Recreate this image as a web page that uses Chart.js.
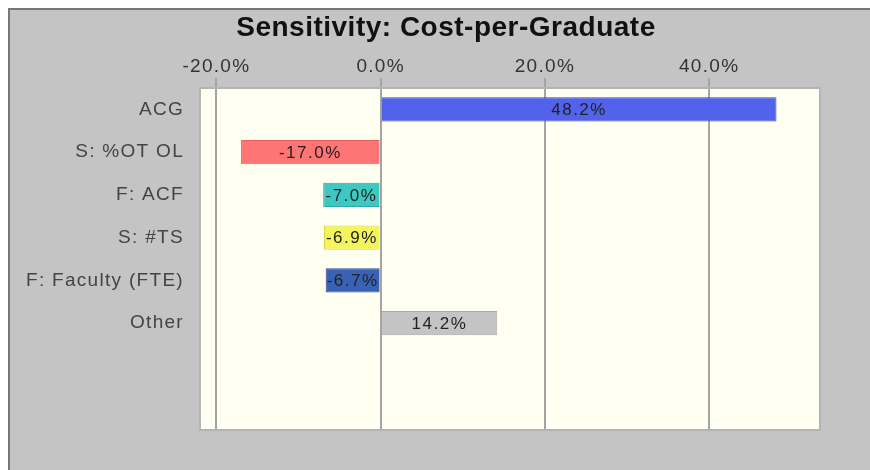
<!DOCTYPE html>
<html>
<head>
<meta charset="utf-8">
<script src="https://cdn.jsdelivr.net/npm/chart.js@4"></script>
<style>
  body { margin: 0; background: #fff; }
  #frame { position: absolute; left: 8px; top: 8px; width: 870px; height: 470px;
           background: #c4c4c4; border-left: 2px solid #777; border-top: 2px solid #777; }
  #wrap { position: absolute; left: 0; top: 0; width: 870px; height: 470px; }
</style>
</head>
<body>
<div id="frame"></div>
<div id="wrap"><canvas id="mygraph" width="870" height="470"></canvas></div>
<script>
// data
const title = "Sensitivity: Cost-per-Graduate";
const labels = ["ACG", "S: %OT OL", "F: ACF", "S: #TS", "F: Faculty (FTE)", "Other", "", ""];
const values = [48.2, -17.0, -7.0, -6.9, -6.7, 14.2, null, null];
const barColors = ["#5262ea", "#ff7474", "#3ec8c2", "#f4f45c", "#3a62b4", "#c4c4c4", "#fff", "#fff"];
const barEdges = ["#3a48c8", "#e86060", "#30a8a2", "#d8d840", "#2a4c94", "#a8a8a8", "#fff", "#fff"];
const xTicks = [-20, 0, 20, 40];

const FONT = "'Liberation Sans', Arial, sans-serif";

// cream plot area, title, border
const plotBox = {
  id: "plotBox",
  beforeDraw(chart) {
    const a = chart.chartArea, c = chart.ctx;
    c.save();
    c.fillStyle = "#fffff2";
    c.fillRect(a.left, a.top, a.right - a.left, a.bottom - a.top);
    c.fillStyle = "#111";
    c.font = "bold 28px " + FONT;
    c.letterSpacing = "0.5px";
    c.textAlign = "center";
    c.textBaseline = "alphabetic";
    c.fillText(title, 446, 36);
    c.restore();
    // slightly wider axis text, like the old GDI rendering
    c.letterSpacing = "1.3px";
  },
  afterDraw(chart) {
    const a = chart.chartArea, c = chart.ctx;
    c.save();
    c.strokeStyle = "#b4b4b4";
    c.lineWidth = 2;
    c.strokeRect(a.left, a.top, a.right - a.left, a.bottom - a.top);
    c.restore();
    c.letterSpacing = "0px";
  }
};

// value labels centred on the bars
const barText = {
  id: "barText",
  afterDatasetsDraw(chart) {
    const c = chart.ctx;
    const meta = chart.getDatasetMeta(0);
    c.save();
    c.font = "17px " + FONT;
    c.letterSpacing = "1.5px";
    c.fillStyle = "#222";
    c.textAlign = "center";
    c.textBaseline = "middle";
    meta.data.forEach((bar, i) => {
      if (values[i] == null) return;
      const p = bar.getProps(["x", "y", "base"], true);
      c.fillText(values[i].toFixed(1) + "%", (p.x + p.base) / 2, p.y + 1);
    });
    c.restore();
  }
};

var ctx = document.getElementById("mygraph");
var mygraph = new Chart(ctx, {
  type: "bar",
  data: {
    labels: labels,
    datasets: [{
      data: values,
      backgroundColor: barColors,
      borderColor: barEdges,
      borderWidth: 1,
      categoryPercentage: 1,
      barPercentage: 0.57
    }]
  },
  options: {
    indexAxis: "y",
    responsive: false,
    animation: false,
    layout: { padding: { left: 0, right: 50, top: 38, bottom: 40 } },
    plugins: {
      legend: { display: false },
      tooltip: { enabled: false },
      title: { display: false }
    },
    scales: {
      x: {
        position: "top",
        min: -22,
        max: 53.5,
        afterBuildTicks: s => { s.ticks = xTicks.map(v => ({ value: v })); },
        afterFit: s => { s.height = 50; },
        grid: { color: "#a4a4a4", lineWidth: 2, tickLength: 10 },
        border: { display: false },
        ticks: {
          color: "#333",
          padding: 0,
          maxRotation: 0,
          font: { family: FONT, size: 19 },
          callback: v => v.toFixed(1) + "%"
        }
      },
      y: {
        afterFit: s => { s.width = 200; },
        grid: { display: false },
        border: { display: false },
        ticks: {
          color: "#444",
          padding: 8,
          font: { family: FONT, size: 19 }
        }
      }
    }
  },
  plugins: [plotBox, barText]
});
</script>
</body>
</html>
